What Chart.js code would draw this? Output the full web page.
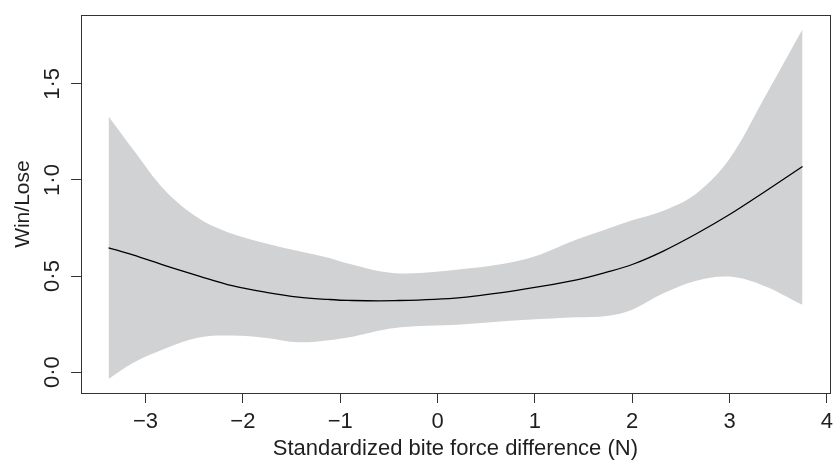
<!DOCTYPE html>
<html>
<head>
<meta charset="utf-8">
<script src="https://cdn.jsdelivr.net/npm/chart.js@4/dist/chart.umd.min.js"></script>
<style>
  html, body { margin: 0; padding: 0; background: #fff; }
  #wrap { width: 839px; height: 460px; }
</style>
</head>
<body>
<div id="wrap"><canvas id="chart" width="839" height="460"></canvas></div>
<script>
// values
const xValues = [-3.38, -3.13, -2.79, -2.45, -2.11, -1.76, -1.43, -1.12, -0.92, -0.44,
                 0.24, 0.92, 1.43, 1.74, 2.0, 2.32, 2.66, 3.0, 3.35, 3.75];
const fitValues = [0.647, 0.61, 0.553, 0.50, 0.45, 0.415, 0.39, 0.378, 0.373, 0.372,
                   0.388, 0.434, 0.48, 0.52, 0.56, 0.63, 0.72, 0.82, 0.935, 1.07];
const upperValues = [1.33, 1.16, 0.94, 0.80, 0.72, 0.67, 0.63, 0.595, 0.565, 0.515,
                     0.535, 0.59, 0.69, 0.745, 0.79, 0.84, 0.93, 1.11, 1.42, 1.785];
const lowerValues = [-0.036, 0.047, 0.124, 0.18, 0.19, 0.178, 0.155, 0.166, 0.18, 0.23,
                     0.248, 0.272, 0.285, 0.292, 0.325, 0.41, 0.476, 0.497, 0.45, 0.35];
const xTicks = [-3, -2, -1, 0, 1, 2, 3, 4];
const yTicks = [0, 0.5, 1.0, 1.5];
const yTickLabels = ['0·0', '0·5', '1·0', '1·5'];

const toPoints = ys => xValues.map((x, i) => ({ x: x, y: ys[i] }));
const ink = '#1f1f1f';
const band = '#d1d2d4';
const fontFamily = 'Liberation Sans, Arial, sans-serif';

// R-style box around the plot region
const boxPlugin = {
    id: 'box',
    afterDraw(chart) {
        const { ctx, chartArea: a } = chart;
        ctx.save();
        ctx.strokeStyle = '#333';
        ctx.lineWidth = 1;
        ctx.strokeRect(Math.round(a.left) + 0.5, Math.round(a.top) + 0.5,
            Math.round(a.right - a.left), Math.round(a.bottom - a.top));
        ctx.restore();
    }
};

new Chart(document.getElementById('chart').getContext('2d'), {
    type: 'line',
    data: {
        datasets: [
            {
                label: 'fit',
                data: toPoints(fitValues),
                borderColor: '#000',
                borderWidth: 1.3,
                pointRadius: 0,
                fill: false,
                tension: 0.35
            },
            {
                label: 'upper',
                data: toPoints(upperValues),
                borderWidth: 0,
                borderColor: band,
                backgroundColor: band,
                pointRadius: 0,
                fill: '+1',
                tension: 0.35
            },
            {
                label: 'lower',
                data: toPoints(lowerValues),
                borderWidth: 0,
                borderColor: band,
                pointRadius: 0,
                fill: false,
                tension: 0.35
            }
        ]
    },
    options: {
        responsive: false,
        animation: false,
        layout: { padding: { top: 12, right: 6, left: 0, bottom: 0 } },
        plugins: {
            legend: { display: false },
            tooltip: { enabled: false }
        },
        scales: {
            x: {
                type: 'linear',
                min: -3.663,
                max: 4.03,
                afterBuildTicks: s => { s.ticks = xTicks.map(v => ({ value: v })); },
                afterFit: s => { s.height = 67; },
                grid: { drawOnChartArea: false, drawTicks: true, tickLength: 10, color: '#333' },
                border: { display: true, color: '#333' },
                ticks: {
                    color: ink,
                    padding: 6,
                    maxRotation: 0,
                    font: { family: fontFamily, size: 22 },
                    callback: v => String(v).replace('-', '\u2212')
                },
                title: {
                    display: true,
                    text: 'Standardized bite force difference (N)',
                    color: ink,
                    padding: 0,
                    font: { family: fontFamily, size: 22, lineHeight: 1 }
                }
            },
            y: {
                type: 'linear',
                min: -0.109,
                max: 1.858,
                afterBuildTicks: s => { s.ticks = yTicks.map(v => ({ value: v })); },
                afterFit: s => { s.width = 81; },
                grid: { drawOnChartArea: false, drawTicks: true, tickLength: 10, color: '#333' },
                border: { display: true, color: '#333' },
                ticks: {
                    color: ink,
                    padding: 2,
                    minRotation: 90,
                    maxRotation: 90,
                    crossAlign: 'center',
                    font: { family: fontFamily, size: 22 },
                    callback: v => yTickLabels[yTicks.indexOf(v)]
                },
                title: {
                    display: true,
                    text: 'Win/Lose',
                    color: ink,
                    padding: { top: 13, bottom: 0 },
                    font: { family: fontFamily, size: 21, lineHeight: 1 }
                }
            }
        }
    },
    plugins: [boxPlugin]
});
</script>
</body>
</html>
